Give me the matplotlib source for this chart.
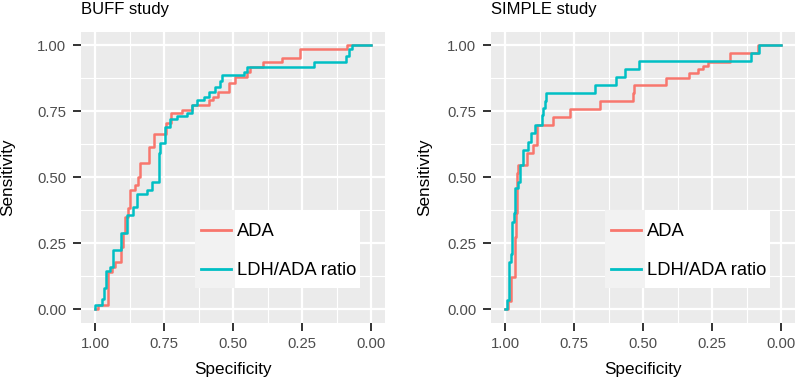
import matplotlib
matplotlib.use("Agg")
import matplotlib.pyplot as plt
from matplotlib.patches import Rectangle

plt.rcParams["font.family"] = ["Liberation Sans", "DejaVu Sans"]

# ROC step paths (specificity, sensitivity)
buff_ada_spec = [1.0, 0.99, 0.99, 0.952, 0.952, 0.94, 0.94, 0.927, 0.927, 0.906, 0.906,
                 0.897, 0.897, 0.891, 0.891, 0.881, 0.881, 0.873, 0.873, 0.857, 0.857,
                 0.845, 0.845, 0.837, 0.837, 0.803, 0.803, 0.788, 0.788, 0.744, 0.744,
                 0.726, 0.726, 0.686, 0.686, 0.649, 0.649, 0.589, 0.589, 0.571, 0.571,
                 0.553, 0.553, 0.516, 0.516, 0.492, 0.492, 0.45, 0.45, 0.438, 0.438,
                 0.39, 0.39, 0.323, 0.323, 0.259, 0.259, 0.087, 0.087, 0.0]
buff_ada_sens = [0.0, 0.0, 0.016, 0.016, 0.14, 0.14, 0.16, 0.16, 0.18, 0.18, 0.237,
                 0.237, 0.287, 0.287, 0.35, 0.35, 0.382, 0.382, 0.451, 0.451, 0.47,
                 0.47, 0.502, 0.502, 0.552, 0.552, 0.615, 0.615, 0.663, 0.663, 0.704,
                 0.704, 0.741, 0.741, 0.754, 0.754, 0.773, 0.773, 0.792, 0.792, 0.805,
                 0.805, 0.824, 0.824, 0.856, 0.856, 0.88, 0.88, 0.899, 0.899, 0.918,
                 0.918, 0.934, 0.934, 0.95, 0.95, 0.985, 0.985, 1.0, 1.0]

buff_ratio_spec = [1.0, 1.0, 0.976, 0.976, 0.968, 0.968, 0.961, 0.961, 0.945, 0.945,
                   0.934, 0.934, 0.905, 0.905, 0.885, 0.885, 0.861, 0.861, 0.849, 0.849,
                   0.813, 0.813, 0.794, 0.794, 0.770, 0.770, 0.765, 0.765, 0.746, 0.746,
                   0.728, 0.728, 0.704, 0.704, 0.668, 0.668, 0.649, 0.649, 0.63, 0.63,
                   0.607, 0.607, 0.589, 0.589, 0.565, 0.565, 0.547, 0.547, 0.541, 0.541,
                   0.462, 0.462, 0.45, 0.45, 0.206, 0.206, 0.093, 0.093, 0.081, 0.081,
                   0.069, 0.069, 0.0]
buff_ratio_sens = [0.0, 0.016, 0.016, 0.04, 0.04, 0.08, 0.08, 0.145, 0.145, 0.16,
                   0.16, 0.226, 0.226, 0.29, 0.29, 0.357, 0.357, 0.388, 0.388, 0.436,
                   0.436, 0.451, 0.451, 0.483, 0.483, 0.59, 0.59, 0.628, 0.628, 0.69,
                   0.69, 0.72, 0.72, 0.73, 0.73, 0.741, 0.741, 0.773, 0.773, 0.792,
                   0.792, 0.805, 0.805, 0.824, 0.824, 0.843, 0.843, 0.862, 0.862, 0.887,
                   0.887, 0.899, 0.899, 0.918, 0.918, 0.934, 0.934, 0.96, 0.96, 0.985,
                   0.985, 1.0, 1.0]

simple_ada_spec = [1.0, 0.99, 0.99, 0.978, 0.978, 0.964, 0.964, 0.96, 0.96, 0.958, 0.958,
                   0.952, 0.952, 0.922, 0.922, 0.897, 0.897, 0.885, 0.885, 0.825, 0.825,
                   0.765, 0.765, 0.657, 0.657, 0.536, 0.536, 0.532, 0.532, 0.416, 0.416,
                   0.332, 0.332, 0.301, 0.301, 0.283, 0.283, 0.265, 0.265, 0.187, 0.187,
                   0.084, 0.084, 0.0]
simple_ada_sens = [0.0, 0.0, 0.03, 0.03, 0.124, 0.124, 0.275, 0.275, 0.363, 0.363, 0.515,
                   0.515, 0.546, 0.546, 0.59, 0.59, 0.622, 0.622, 0.697, 0.697, 0.727,
                   0.727, 0.756, 0.756, 0.79, 0.79, 0.82, 0.82, 0.85, 0.85, 0.874,
                   0.874, 0.893, 0.893, 0.908, 0.908, 0.92, 0.92, 0.934, 0.934, 0.971,
                   0.971, 1.0, 1.0]

simple_ratio_spec = [1.0, 0.992, 0.992, 0.985, 0.985, 0.98, 0.98, 0.975, 0.975, 0.968,
                     0.968, 0.964, 0.964, 0.952, 0.952, 0.946, 0.946, 0.936, 0.936, 0.916,
                     0.916, 0.907, 0.907, 0.891, 0.891, 0.867, 0.867, 0.862, 0.862, 0.856,
                     0.856, 0.85, 0.85, 0.675, 0.675, 0.597, 0.597, 0.566, 0.566, 0.515,
                     0.515, 0.109, 0.109, 0.079, 0.079, 0.0]
simple_ratio_sens = [0.0, 0.0, 0.035, 0.035, 0.18, 0.18, 0.21, 0.21, 0.33, 0.33, 0.363,
                     0.363, 0.458, 0.458, 0.483, 0.483, 0.546, 0.546, 0.603, 0.603, 0.634,
                     0.634, 0.666, 0.666, 0.697, 0.697, 0.735, 0.735, 0.76, 0.76, 0.79,
                     0.79, 0.817, 0.817, 0.849, 0.849, 0.88, 0.88, 0.909, 0.909, 0.94,
                     0.94, 0.971, 0.971, 1.0, 1.0]

titles = ["BUFF study", "SIMPLE study"]
labels = ["ADA", "LDH/ADA ratio"]
colors = ["#F8766D", "#00BFC4"]
ticks = [0.0, 0.25, 0.5, 0.75, 1.0]
tick_labels = ["0.00", "0.25", "0.50", "0.75", "1.00"]

W, H = 797, 380
fig = plt.figure(figsize=(W / 100, H / 100), dpi=100)

panels = [
    (81.2, (buff_ada_spec, buff_ada_sens), (buff_ratio_spec, buff_ratio_sens), -0.218),
    (491.2, (simple_ada_spec, simple_ada_sens), (simple_ratio_spec, simple_ratio_sens), -0.194),
]

for i, (left_px, ada, ratio, ylab_x) in enumerate(panels):
    ax = fig.add_axes([left_px / W, (H - 322.5) / H, 303.8 / W, 290.7 / H])
    ax.set_facecolor("#EBEBEB")
    for sp in ax.spines.values():
        sp.set_visible(False)
    ax.set_xlim(1.05, -0.05)
    ax.set_ylim(-0.05, 1.05)
    ax.set_xticks(ticks)
    ax.set_xticklabels(tick_labels)
    ax.set_yticks(ticks)
    ax.set_yticklabels(tick_labels)
    ax.set_xticks([0.125, 0.375, 0.625, 0.875], minor=True)
    ax.set_yticks([0.125, 0.375, 0.625, 0.875], minor=True)
    ax.grid(which="major", color="white", lw=1.6)
    ax.grid(which="minor", color="white", lw=0.8)
    ax.set_axisbelow(True)
    ax.tick_params(which="major", length=5.8, width=1.4, color="#333333",
                   labelsize=10.7, labelcolor="#4D4D4D", pad=5)
    ax.tick_params(which="minor", length=0)

    ax.plot(ada[0], ada[1], color=colors[0], lw=1.8, label=labels[0], zorder=2)
    ax.plot(ratio[0], ratio[1], color=colors[1], lw=1.8, label=labels[1], zorder=3)

    ax.set_xlabel("Specificity", fontsize=12.3)
    ax.set_ylabel("Sensitivity", fontsize=12.3)
    ax.xaxis.set_label_coords(0.5, -0.135)
    ax.yaxis.set_label_coords(ylab_x, 0.5)
    ax.set_title(titles[i], loc="left", fontsize=12, pad=12.5)

    # legend box: white background with grey key column
    ax.add_patch(Rectangle((0.375, 0.119), 0.544, 0.268, transform=ax.transAxes,
                           facecolor="white", edgecolor="none", zorder=4))
    ax.add_patch(Rectangle((0.375, 0.119), 0.132, 0.268, transform=ax.transAxes,
                           facecolor="#F2F2F2", edgecolor="none", zorder=4.5))
    leg = ax.legend(loc="center left", bbox_to_anchor=(0.375, 0.246), frameon=False,
                    fontsize=13.2, handlelength=1.64, handletextpad=0.33,
                    borderpad=0.3, labelspacing=1.2, borderaxespad=0)
    for line in leg.get_lines():
        line.set_linewidth(2.0)
    leg.set_zorder(5)

fig.savefig("out.png", dpi=100)
